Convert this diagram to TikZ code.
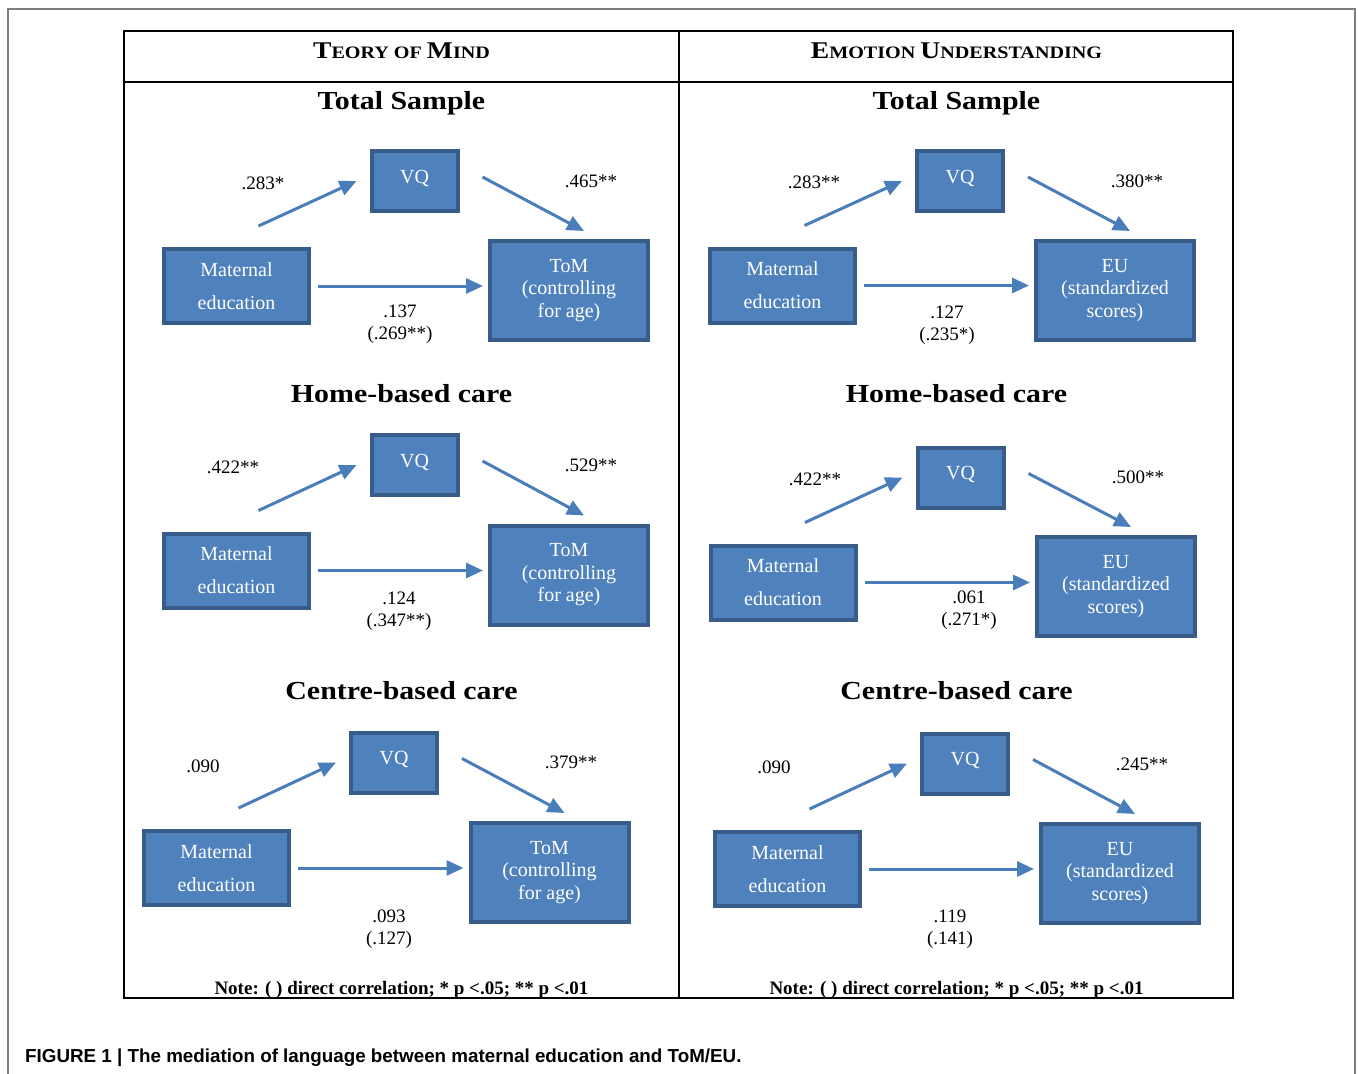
\documentclass[tikz,border=0pt]{standalone}
\usepackage{fontspec}
\setmainfont{Liberation Serif}
\setsansfont{Liberation Sans}
\newfontfamily\titlefont{Liberation Serif}[FakeStretch=1.15]
\definecolor{boxblue}{RGB}{79,129,189}
\definecolor{boxedge}{RGB}{56,93,138}
\definecolor{arrowblue}{RGB}{74,126,187}
\definecolor{framegray}{RGB}{125,125,125}
\newcommand{\hbig}[1]{{\fontsize{24}{28}\selectfont #1}}
\newcommand{\hsmall}[1]{{\fontsize{17.5}{21}\selectfont #1}}
\usetikzlibrary{arrows.meta,calc}

\begin{document}
\begin{tikzpicture}[x=1pt,y=-1pt,
  box/.style={draw=boxedge,line width=4pt,fill=boxblue,text=white,align=center,inner sep=0pt},
  vqbox/.style={box,minimum width=86pt,minimum height=60pt,font=\fontsize{20}{24}\selectfont,text depth=9pt},
  mebox/.style={box,minimum width=145pt,minimum height=74pt,font=\fontsize{20}{33}\selectfont},
  outbox/.style={box,minimum width=158pt,minimum height=99pt,font=\fontsize{20}{22.5}\selectfont},
  arr/.style={-{Triangle[length=17pt,width=15pt]},line width=3pt,arrowblue},
  lab/.style={font=\fontsize{19}{22.5}\selectfont,align=center,inner sep=0pt},
  title/.style={anchor=base,font=\titlefont\bfseries\fontsize{26}{30}\selectfont},
  head/.style={anchor=base,font=\titlefont\bfseries},
  note/.style={anchor=base,font=\bfseries\fontsize{19}{22}\selectfont}
]
  \useasboundingbox (0,0) rectangle (1358,1074);
  % frame and table
  \draw[framegray,line width=1.5pt] (8,1074) -- (8,9) -- (1355,9) -- (1355,1074);
  \draw[line width=2.5pt] (124,31) rectangle (1233,998);
  \draw[line width=2pt] (124,82) -- (1233,82);
  \draw[line width=2pt] (679,31) -- (679,998);
  % headers
  \node[head] (headL) at (401.5,58) {\hbig{T}\hsmall{EORY OF }\hbig{M}\hsmall{IND}};
  \node[head] (headR) at (956.5,58) {\hbig{E}\hsmall{MOTION }\hbig{U}\hsmall{NDERSTANDING}};
  \node[title] (tsL) at (401.5,109) {Total Sample};
  \node[title] (tsR) at (956.5,109) {Total Sample};
  \node[title] (hbL) at (401.5,402) {Home-based care};
  \node[title] (hbR) at (956.5,402) {Home-based care};
  \node[title] (cbL) at (401.5,699) {Centre-based care};
  \node[title] (cbR) at (956.5,699) {Centre-based care};

  % Total sample, ToM
  \node[vqbox] (vq1) at (414.5,181) {VQ};
  \node[mebox] (me1) at (236.5,286) {Maternal\\education};
  \node[outbox] (out1) at (569,290.5) {ToM\\(controlling\\for age)};
  \draw[arr] ($(me1.north)+(22,-21)$) -- ($(vq1.west)+(-13,0)$);
  \draw[arr] ($(vq1.east)+(23,-4)$) -- ($(out1.north)+(15,-8)$);
  \draw[arr,shorten <=7pt,shorten >=5pt] (me1.east) -- (me1.east -| out1.west);
  \node[lab] (a1) at (263,183) {.283*};
  \node[lab] (b1) at (591,181) {.465**};
  \node[lab] (c1) at (400,324) {.137\\(.269**)};

  % Total sample, EU
  \node[vqbox] (vq2) at (960,181) {VQ};
  \node[mebox] (me2) at (782.5,285.5) {Maternal\\education};
  \node[outbox] (out2) at (1115,290.5) {EU\\(standardized\\scores)};
  \draw[arr] ($(me2.north)+(22,-21)$) -- ($(vq2.west)+(-13,0)$);
  \draw[arr] ($(vq2.east)+(23,-4)$) -- ($(out2.north)+(15,-8)$);
  \draw[arr,shorten <=7pt,shorten >=5pt] (me2.east) -- (me2.east -| out2.west);
  \node[lab] (a2) at (814,182) {.283**};
  \node[lab] (b2) at (1137,181) {.380**};
  \node[lab] (c2) at (947,325) {.127\\(.235*)};

  % Home-based care, ToM
  \node[vqbox] (vq3) at (414.5,465) {VQ};
  \node[mebox] (me3) at (236.5,570.5) {Maternal\\education};
  \node[outbox] (out3) at (569,575) {ToM\\(controlling\\for age)};
  \draw[arr] ($(me3.north)+(22,-21)$) -- ($(vq3.west)+(-13,0)$);
  \draw[arr] ($(vq3.east)+(23,-4)$) -- ($(out3.north)+(15,-8)$);
  \draw[arr,shorten <=7pt,shorten >=5pt] (me3.east) -- (me3.east -| out3.west);
  \node[lab] (a3) at (233,467) {.422**};
  \node[lab] (b3) at (591,465) {.529**};
  \node[lab] (c3) at (399,611) {.124\\(.347**)};

  % Home-based care, EU
  \node[vqbox] (vq4) at (960.5,477.5) {VQ};
  \node[mebox] (me4) at (783,582.5) {Maternal\\education};
  \node[outbox] (out4) at (1116,586.5) {EU\\(standardized\\scores)};
  \draw[arr] ($(me4.north)+(22,-21)$) -- ($(vq4.west)+(-13,0)$);
  \draw[arr] ($(vq4.east)+(23,-4)$) -- ($(out4.north)+(15,-8)$);
  \draw[arr,shorten <=7pt,shorten >=5pt] (me4.east) -- (me4.east -| out4.west);
  \node[lab] (a4) at (815,479) {.422**};
  \node[lab] (b4) at (1138,477) {.500**};
  \node[lab] (c4) at (969,610) {.061\\(.271*)};

  % Centre-based care, ToM
  \node[vqbox] (vq5) at (394,762.5) {VQ};
  \node[mebox] (me5) at (216.5,868) {Maternal\\education};
  \node[outbox] (out5) at (549.5,872.5) {ToM\\(controlling\\for age)};
  \draw[arr] ($(me5.north)+(22,-21)$) -- ($(vq5.west)+(-13,0)$);
  \draw[arr] ($(vq5.east)+(23,-4)$) -- ($(out5.north)+(15,-8)$);
  \draw[arr,shorten <=7pt,shorten >=5pt] (me5.east) -- (me5.east -| out5.west);
  \node[lab] (a5) at (203,766) {.090};
  \node[lab] (b5) at (571,762) {.379**};
  \node[lab] (c5) at (389,929) {.093\\(.127)};

  % Centre-based care, EU
  \node[vqbox] (vq6) at (965,763.5) {VQ};
  \node[mebox] (me6) at (787.5,869) {Maternal\\education};
  \node[outbox] (out6) at (1120,873.5) {EU\\(standardized\\scores)};
  \draw[arr] ($(me6.north)+(22,-21)$) -- ($(vq6.west)+(-13,0)$);
  \draw[arr] ($(vq6.east)+(23,-4)$) -- ($(out6.north)+(15,-8)$);
  \draw[arr,shorten <=7pt,shorten >=5pt] (me6.east) -- (me6.east -| out6.west);
  \node[lab] (a6) at (774,767) {.090};
  \node[lab] (b6) at (1142,764) {.245**};
  \node[lab] (c6) at (950,929) {.119\\(.141)};

  % notes and caption
  \node[note] (noteL) at (401.5,994) {Note: ( ) direct correlation; * p <.05; ** p <.01};
  \node[note] (noteR) at (956.5,994) {Note: ( ) direct correlation; * p <.05; ** p <.01};
  \node[anchor=base west,inner sep=0pt,font=\sffamily\bfseries\fontsize{18.8}{22}\selectfont] (caption) at (25,1062)
    {FIGURE 1 | The mediation of language between maternal education and ToM/EU.};
\end{tikzpicture}
\end{document}
